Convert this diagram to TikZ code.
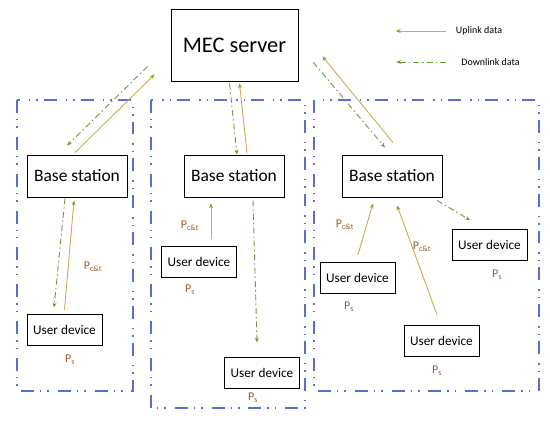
\documentclass[tikz,border=0pt]{standalone}
\usepackage{fontspec}
\setmainfont{Carlito}
\usepackage{tikz}
\usetikzlibrary{arrows,arrows.meta,positioning}
\usepackage{xcolor}
\definecolor{uplinkcol}{RGB}{205,170,75}
\definecolor{uptipcol}{RGB}{150,155,45}
\definecolor{downlinkcol}{RGB}{110,155,60}
\definecolor{groupcol}{RGB}{90,110,210}
\definecolor{powcol}{RGB}{160,90,40}

\begin{document}
\begin{tikzpicture}[x=1bp, y=-1bp,
			box/.style={draw, thick, fill=white, align=center,
				inner sep=0pt, font=\fontsize{13.3}{15}\selectfont,
				minimum width=75bp, minimum height=31bp},
			station/.style={box, font=\fontsize{17.5}{20}\selectfont,
				minimum width=100bp, minimum height=42bp},
			server/.style={box, font=\fontsize{22.4}{26}\selectfont,
				minimum width=127bp, minimum height=72bp},
			group/.style={draw=groupcol, line width=1.3pt,
				dash pattern=on 13pt off 6pt on 1.5pt off 6pt on 1.5pt off 9pt},
			uplink/.style={draw=uplinkcol, line width=0.9pt,
				-{Stealth[length=5pt,width=4pt,color=uptipcol]}},
			downlink/.style={draw=downlinkcol, line width=0.9pt,
				-{Stealth[length=5pt,width=4pt]},
				dash pattern=on 6pt off 3pt on 1.5pt off 3pt},
			power/.style={text=powcol, inner sep=1pt,
				font=\fontsize{12}{14}\selectfont},
			legendtext/.style={inner sep=0pt, font=\fontsize{10}{12}\selectfont}
		]
		\useasboundingbox (0,0) rectangle (550,420);
		% cells
		\draw[group] (17,100) rectangle (133,391);
		\draw[group] (151,100) rectangle (305,408);
		\draw[group] (314,100) rectangle (539,391);
		% nodes
		\node[server] (mec) at (234.5,45) {MEC server};
		\node[station] (bsL) at (77,176) {Base station};
		\node[station] (bsM) at (234,176) {Base station};
		\node[station] (bsR) at (392,176) {Base station};
		\node[box] (udL) at (64.5,329.5) {User device};
		\node[box] (udMa) at (199,261.5) {User device};
		\node[box] (udMb) at (262,372.5) {User device};
		\node[box] (udRa) at (357.5,277.5) {User device};
		\node[box] (udRb) at (441.5,340.5) {User device};
		\node[box] (udRc) at (489.5,245) {User device};
		% server <-> stations
		\draw[uplink] ([shift={(-2,-2)}]bsL.north) -- ([shift={(-16,-7)}]mec.south west);
		\draw[downlink] ([shift={(-23,-15)}]mec.south west) -- ([shift={(-10,-9)}]bsL.north);
		\draw[downlink] ([shift={(-5,2)}]mec.south) -- ([shift={(3,0)}]bsM.north);
		\draw[uplink] ([shift={(13,-2)}]bsM.north) -- ([shift={(5,2)}]mec.south);
		\draw[uplink] ([shift={(1,-12)}]bsR.north) -- ([shift={(24,-25)}]mec.south east);
		\draw[downlink] ([shift={(15,-19)}]mec.south east) -- ([shift={(-7,-7)}]bsR.north);
		% stations <-> devices
		\draw[downlink] ([shift={(-12,1)}]bsL.south) -- ([shift={(-10.5,-6)}]udL.north);
		\draw[uplink] ([shift={(0,-4)}]udL.north) -- ([shift={(-3,3)}]bsL.south);
		\draw[uplink] ([shift={(12,-7)}]udMa.north) -- ([shift={(-23,6)}]bsM.south);
		\draw[downlink] ([shift={(19,3)}]bsM.south) -- ([shift={(-5,-14)}]udMb.north);
		\draw[uplink] ([shift={(0.5,-7)}]udRa.north) -- ([shift={(-19,6)}]bsR.south);
		\draw[uplink] ([shift={(-4.5,-10)}]udRb.north) -- ([shift={(5,8)}]bsR.south);
		\draw[downlink] ([shift={(45,3)}]bsR.south) -- ([shift={(-19.5,-9)}]udRc.north);
		% power labels
		\node[power] (pL) at (93,267) {P\textsubscript{c\&t}};
		\node[power] (sL) at (70,360) {P\textsubscript{s}};
		\node[power] (pM) at (190,226) {P\textsubscript{c\&t}};
		\node[power] (sMa) at (190,290) {P\textsubscript{s}};
		\node[power] (sMb) at (253,398) {P\textsubscript{s}};
		\node[power] (pRa) at (345,225) {P\textsubscript{c\&t}};
		\node[power] (pRb) at (422,247) {P\textsubscript{c\&t}};
		\node[power] (sRa) at (349,307) {P\textsubscript{s}};
		\node[power] (sRb) at (437,371) {P\textsubscript{s}};
		\node[power] (sRc) at (497,275) {P\textsubscript{s}};
		% legend
		\node[legendtext] (lup) at (479,31) {Uplink data};
		\node[legendtext] (ldown) at (490.5,62) {Downlink data};
		\draw[uplink] ([shift={(-10,0)}]lup.west) -- ([shift={(-60,0)}]lup.west);
		\draw[downlink] ([shift={(-15,0)}]ldown.west) -- ([shift={(-65,0)}]ldown.west);
	\end{tikzpicture}
\end{document}
